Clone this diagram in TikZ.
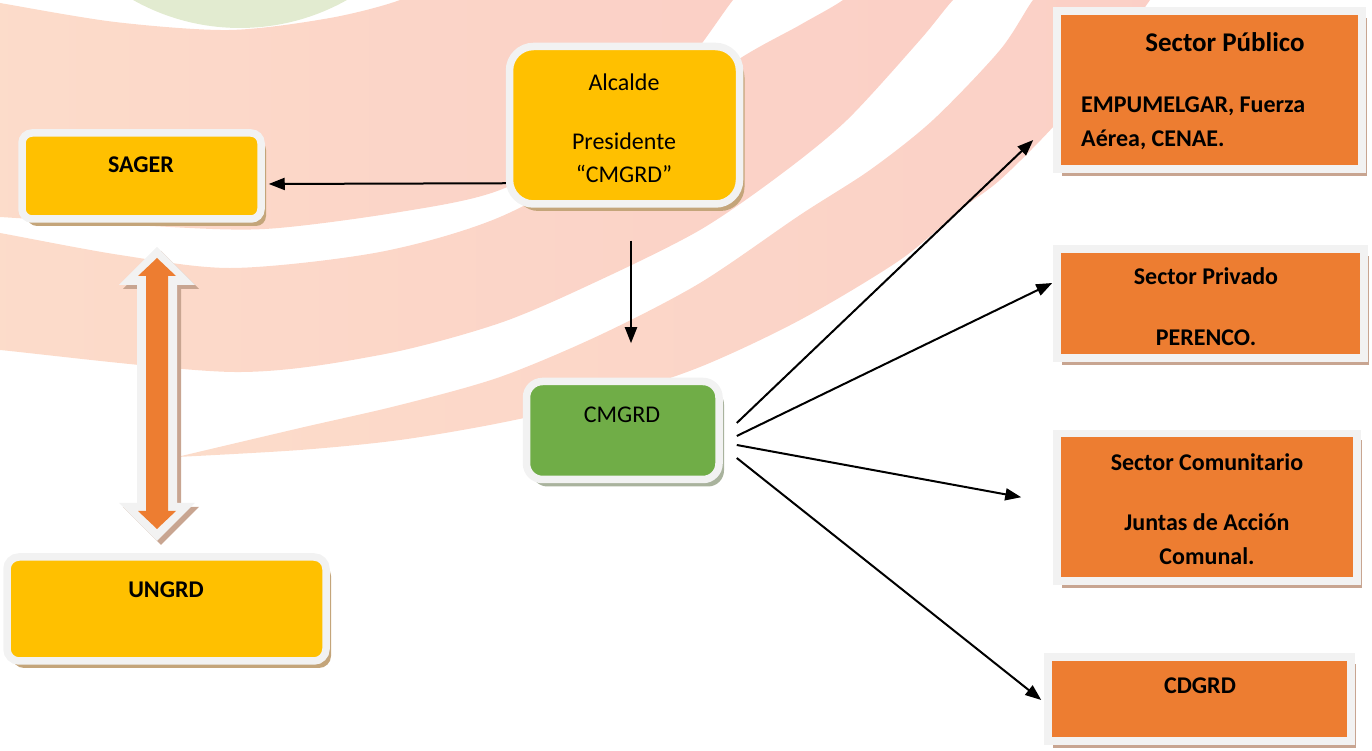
\documentclass[tikz,border=0pt]{standalone}
\usepackage{fontspec}
\setmainfont{Carlito}
\usetikzlibrary{arrows.meta, shadows}

\definecolor{boxyellow}{HTML}{FFC000}
\definecolor{boxgreen}{HTML}{70AD47}
\definecolor{boxorange}{HTML}{ED7D31}
\definecolor{boxrim}{HTML}{F2F2F2}
\definecolor{shadetan}{HTML}{C4A57A}
\definecolor{shadegreen}{HTML}{A9B39D}
\definecolor{shadebrown}{HTML}{C8A591}
\definecolor{bandpeach}{RGB}{252,220,202}
\definecolor{bandpink}{RGB}{251,207,198}
\definecolor{ringgreen}{RGB}{226,235,208}

\begin{document}
\begin{tikzpicture}[x=1pt, y=1pt,
    ybox/.style={draw=boxrim, line width=7.5pt, fill=boxyellow, inner sep=0pt,
        drop shadow={shadow xshift=5pt, shadow yshift=-7pt, fill=shadetan, opacity=1}},
    gbox/.style={draw=boxrim, line width=7.5pt, fill=boxgreen, inner sep=0pt,
        drop shadow={shadow xshift=5pt, shadow yshift=-7pt, fill=shadegreen, opacity=1}},
    obox/.style={draw=boxrim, line width=7.5pt, fill=boxorange, inner sep=0pt,
        drop shadow={shadow xshift=5pt, shadow yshift=-7pt, fill=shadebrown, opacity=1}},
    txt/.style={font=\fontsize{24}{29}\selectfont, inner sep=0pt, anchor=base},
    btxt/.style={txt, font=\fontsize{24}{29}\selectfont\bfseries},
    conn/.style={-{Triangle[length=16pt, width=12pt]}, line width=2pt}
]
\useasboundingbox (0,0) rectangle (1372,751);

% Background rings
\begin{scope}
\clip (0,0) rectangle (1372,751);
\begin{scope}[yshift=751pt, yscale=-1]
\fill[ringgreen] (240,-190) circle[radius=218];
\shade[left color=bandpeach, right color=bandpink]
    plot[smooth] coordinates {(-10,1) (0,3) (115,22) (230,30) (330,18) (400,0) (430,-20)}
    -- plot[smooth] coordinates {(760,-30) (733,0) (680,70) (600,135) (500,190) (400,212) (265,229) (150,226) (0,217) (-10,216)} -- cycle;
\shade[left color=bandpeach, right color=bandpink]
    plot[smooth] coordinates {(-10,232) (0,233) (120,255) (233,268) (380,252) (500,217) (620,150) (730,65) (800,25) (843,0) (870,-25)}
    -- plot[smooth] coordinates {(985,-30) (953,0) (920,40) (847,120) (780,175) (700,230) (600,280) (500,323) (380,355) (233,372) (0,350) (-10,349)} -- cycle;
\shade[left color=bandpeach, right color=bandpink]
    plot[smooth] coordinates {(177,457) (300,428) (400,405) (500,377) (600,335) (700,283) (800,215) (870,170) (933,120) (1000,50) (1033,0) (1060,-30)}
    -- plot[smooth] coordinates {(1170,-30) (1150,0) (1100,70) (1053,127) (1000,180) (960,210) (900,260) (800,320) (700,367) (600,400) (500,423) (400,440) (300,450) (177,457)} -- cycle;
\end{scope}
\end{scope}

% Double arrow SAGER - UNGRD
\begin{scope}[shift={(4,-4)}]
\fill[shadebrown] (157,504) -- (195,466) -- (177,466) -- (177,248) -- (195,248) -- (157,210)
    -- (119,248) -- (137,248) -- (137,466) -- (119,466) -- cycle;
\end{scope}
\fill[boxrim] (157,504) -- (195,466) -- (177,466) -- (177,248) -- (195,248) -- (157,210)
    -- (119,248) -- (137,248) -- (137,466) -- (119,466) -- cycle;
\fill[boxorange] (157,493) -- (176,475) -- (168,475) -- (168,240) -- (176,240) -- (157,222)
    -- (138,240) -- (146,240) -- (146,475) -- (138,475) -- cycle;

% Left column
\node[ybox, rounded corners=10pt, minimum width=239pt, minimum height=86pt] (sager) at (141.5,575) {};
\node[btxt] (sagertxt) at (141,578) {SAGER};
\node[ybox, rounded corners=12pt, minimum width=319pt, minimum height=104pt] (ungrd) at (166.5,142) {};
\node[btxt] (ungrdtxt) at (166,153) {UNGRD};

% Centre column
\node[ybox, rounded corners=24pt, minimum width=230pt, minimum height=157.5pt] (alcalde) at (624.5,625.75) {};
\node[txt] (alc1) at (624,660) {Alcalde};
\node[txt] (alc2) at (624,601) {Presidente};
\node[txt] (alc3) at (624,568) {“CMGRD”};
\node[gbox, rounded corners=16pt, minimum width=192.5pt, minimum height=98pt] (cmgrd) at (622.75,320.5) {};
\node[txt] (cmgrdtxt) at (622,328) {CMGRD};

% Right column
\node[obox, minimum width=305pt, minimum height=158pt] (spub) at (1209.5,661) {};
\node[txt, font=\fontsize{27}{32}\selectfont\bfseries] (spub1) at (1225,699) {Sector Público};
\node[btxt, anchor=base west] (spub2) at (1081,638) {EMPUMELGAR, Fuerza};
\node[btxt, anchor=base west] (spub3) at (1081,604) {Aérea, CENAE.};
\node[obox, minimum width=307pt, minimum height=109pt] (spriv) at (1210.5,447.5) {};
\node[btxt] (spriv1) at (1206,466) {Sector Privado};
\node[btxt] (spriv2) at (1206,405) {PERENCO.};
\node[obox, minimum width=300pt, minimum height=147.5pt] (scom) at (1207,243.75) {};
\node[btxt] (scom1) at (1207,280) {Sector Comunitario};
\node[btxt] (scom2) at (1207,220) {Juntas de Acción};
\node[btxt] (scom3) at (1207,186) {Comunal.};
\node[obox, minimum width=303pt, minimum height=84pt] (cdgrd) at (1199.5,52) {};
\node[btxt] (cdgrdtxt) at (1200,57) {CDGRD};

% Connectors
\draw[conn] ([yshift=-58pt]alcalde.west) -- ([shift={(4pt,-8pt)}]sager.east);
\draw[conn] ([shift={(6.5pt,-33pt)}]alcalde.south) -- ([shift={(8.25pt,34.5pt)}]cmgrd.north);
\draw[conn] ([shift={(14pt,7.5pt)}]cmgrd.east) -- ([shift={(-20pt,-50pt)}]spub.west);
\draw[conn] ([shift={(14pt,-5.5pt)}]cmgrd.east) -- ([shift={(-1pt,20.5pt)}]spriv.west);
\draw[conn] ([shift={(14pt,-14.5pt)}]cmgrd.east) -- ([shift={(-32pt,10pt)}]scom.west);
\draw[conn] ([shift={(14pt,-27.5pt)}]cmgrd.east) -- ([shift={(-3pt,-1pt)}]cdgrd.west);
\end{tikzpicture}
\end{document}
